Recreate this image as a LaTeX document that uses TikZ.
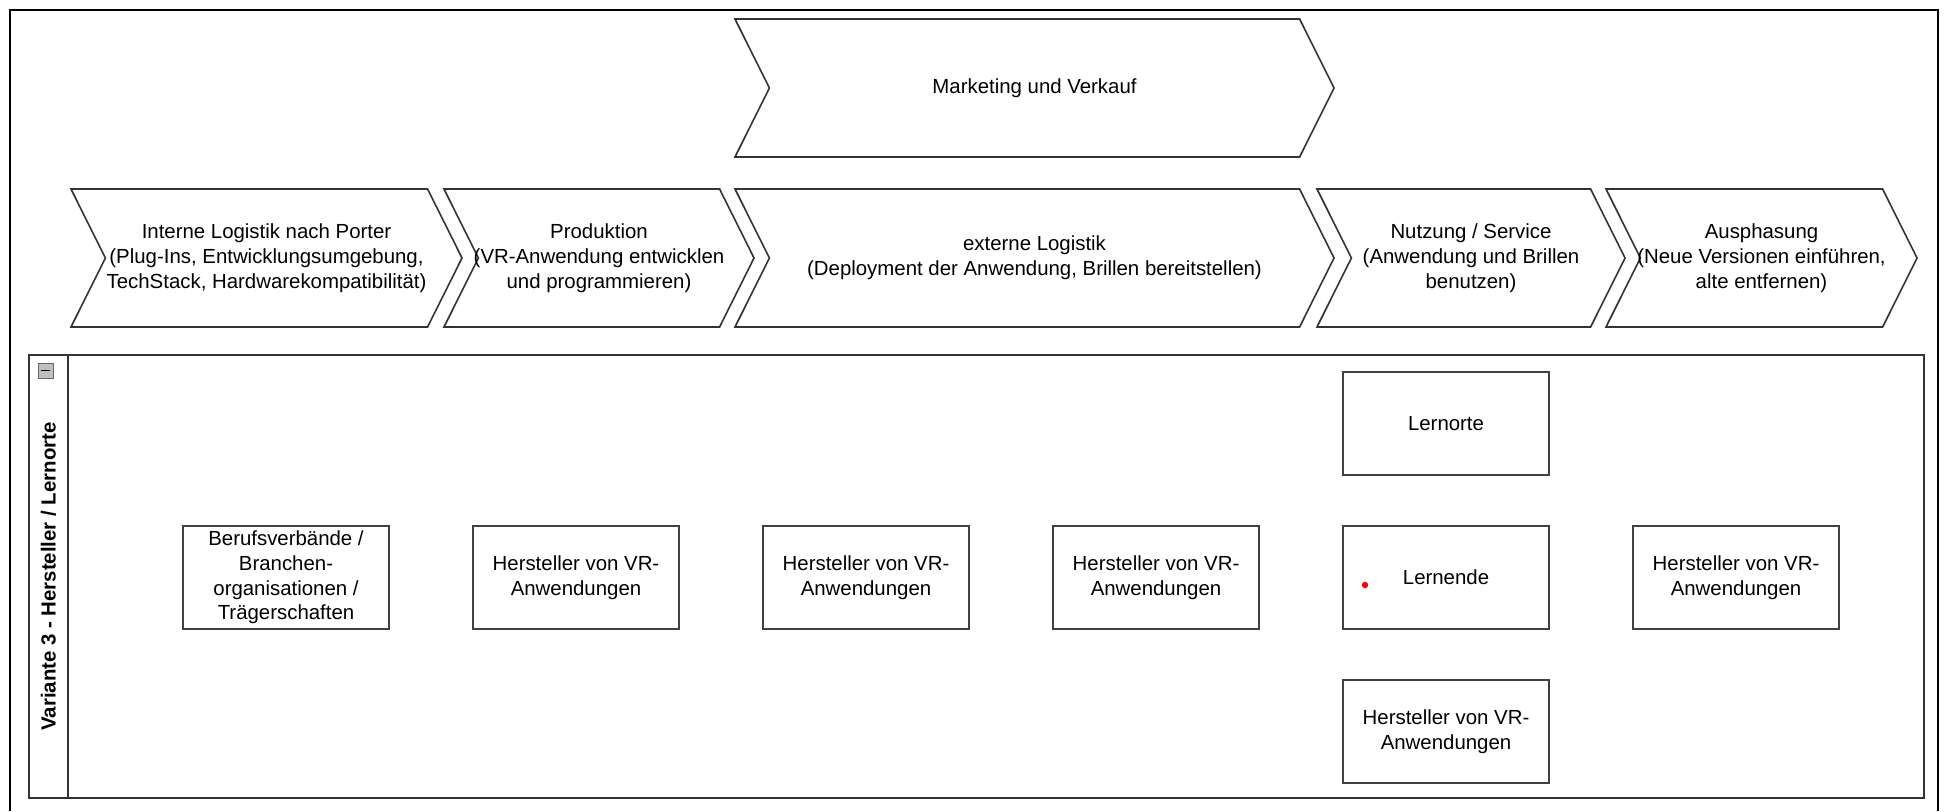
\documentclass[tikz,border=0pt]{standalone}
\usepackage{fontspec}
\setmainfont{Liberation Sans}
\usetikzlibrary{shapes.symbols,positioning}

\tikzset{
  stage/.style={shape=signal, signal from=west, signal to=east, signal pointer angle=127,
                draw=black!80, line width=0.8pt, minimum height=69pt, align=center, inner sep=0pt},
  actor/.style={draw=black!75, line width=0.8pt, minimum width=103pt, minimum height=51.5pt,
                align=center, inner sep=2pt},
  lanebox/.style={draw=black!80, line width=0.8pt, minimum height=221.5pt, inner sep=0pt},
  reddot/.style={circle, fill=red, inner sep=0pt, minimum size=3.2pt},
}

\begin{document}
\begin{tikzpicture}[x=0.5pt, y=0.5pt, node distance=145pt, font=\fontsize{10.2}{12.4}\selectfont]
  \useasboundingbox (0,0) rectangle (1948,811);
  \draw[line width=1.1pt] (10,0) -- (10,801) -- (1938,801) -- (1938,0);

  % Wertschoepfungskette
  \node[stage, minimum width=299.5pt] (MV) at (1034.5,723) {Marketing und Verkauf};
  \node[stage, minimum width=195.5pt] (IL) at (266.5,553) {Interne Logistik nach Porter\\(Plug-Ins, Entwicklungsumgebung,\\TechStack, Hardwarekompatibilität)};
  \node[stage, minimum width=155pt]   (PR) at (599,553)    {Produktion\\\makebox[0pt]{(VR-Anwendung entwicklen}\\und programmieren)};
  \node[stage, minimum width=299.5pt] (EL) at (1034.5,553) {externe Logistik\\(Deployment der Anwendung, Brillen bereitstellen)};
  \node[stage, minimum width=154pt]   (NS) at (1471,553)   {Nutzung / Service\\(Anwendung und Brillen\\benutzen)};
  \node[stage, minimum width=155.5pt] (AP) at (1761.5,553) {Ausphasung\\\makebox[0pt]{(Neue Versionen einführen,}\\alte entfernen)};

  % Swimlane
  \node[lanebox, minimum width=947.5pt] (lane) at (976.5,234.5) {};
  \node[lanebox, minimum width=19.5pt, anchor=west] (head) at (lane.west) {};
  \node[rotate=90, font=\fontsize{10.2}{12.4}\selectfont\bfseries] (title) at (head.center) {Variante 3 - Hersteller / Lernorte};
  \node[draw=black!60, fill=black!25, minimum size=7.5pt, inner sep=0pt] (collapse) at (45.5,440.5) {\rule{4.5pt}{0.9pt}};

  \node[actor] (BV)                 at (286,233.5) {Berufsverbände /\\Branchen-\\organisationen /\\Trägerschaften};
  \node[actor] (H2) [right of=BV]                  {Hersteller von VR-\\Anwendungen};
  \node[actor] (H3) [right of=H2]                  {Hersteller von VR-\\Anwendungen};
  \node[actor] (H4) [right of=H3]                  {Hersteller von VR-\\Anwendungen};
  \node[actor] (LE) [right of=H4]                  {Lernende};
  \node[actor] (LO) [above of=LE, node distance=77pt] {Lernorte};
  \node[actor] (HB) [below of=LE, node distance=77pt] {Hersteller von VR-\\Anwendungen};
  \node[actor] (HR) [right of=LE]                  {Hersteller von VR-\\Anwendungen};
  \node[reddot] (dot) at ([xshift=-40.5pt,yshift=-3.75pt]LE.center) {};
\end{tikzpicture}
\end{document}
